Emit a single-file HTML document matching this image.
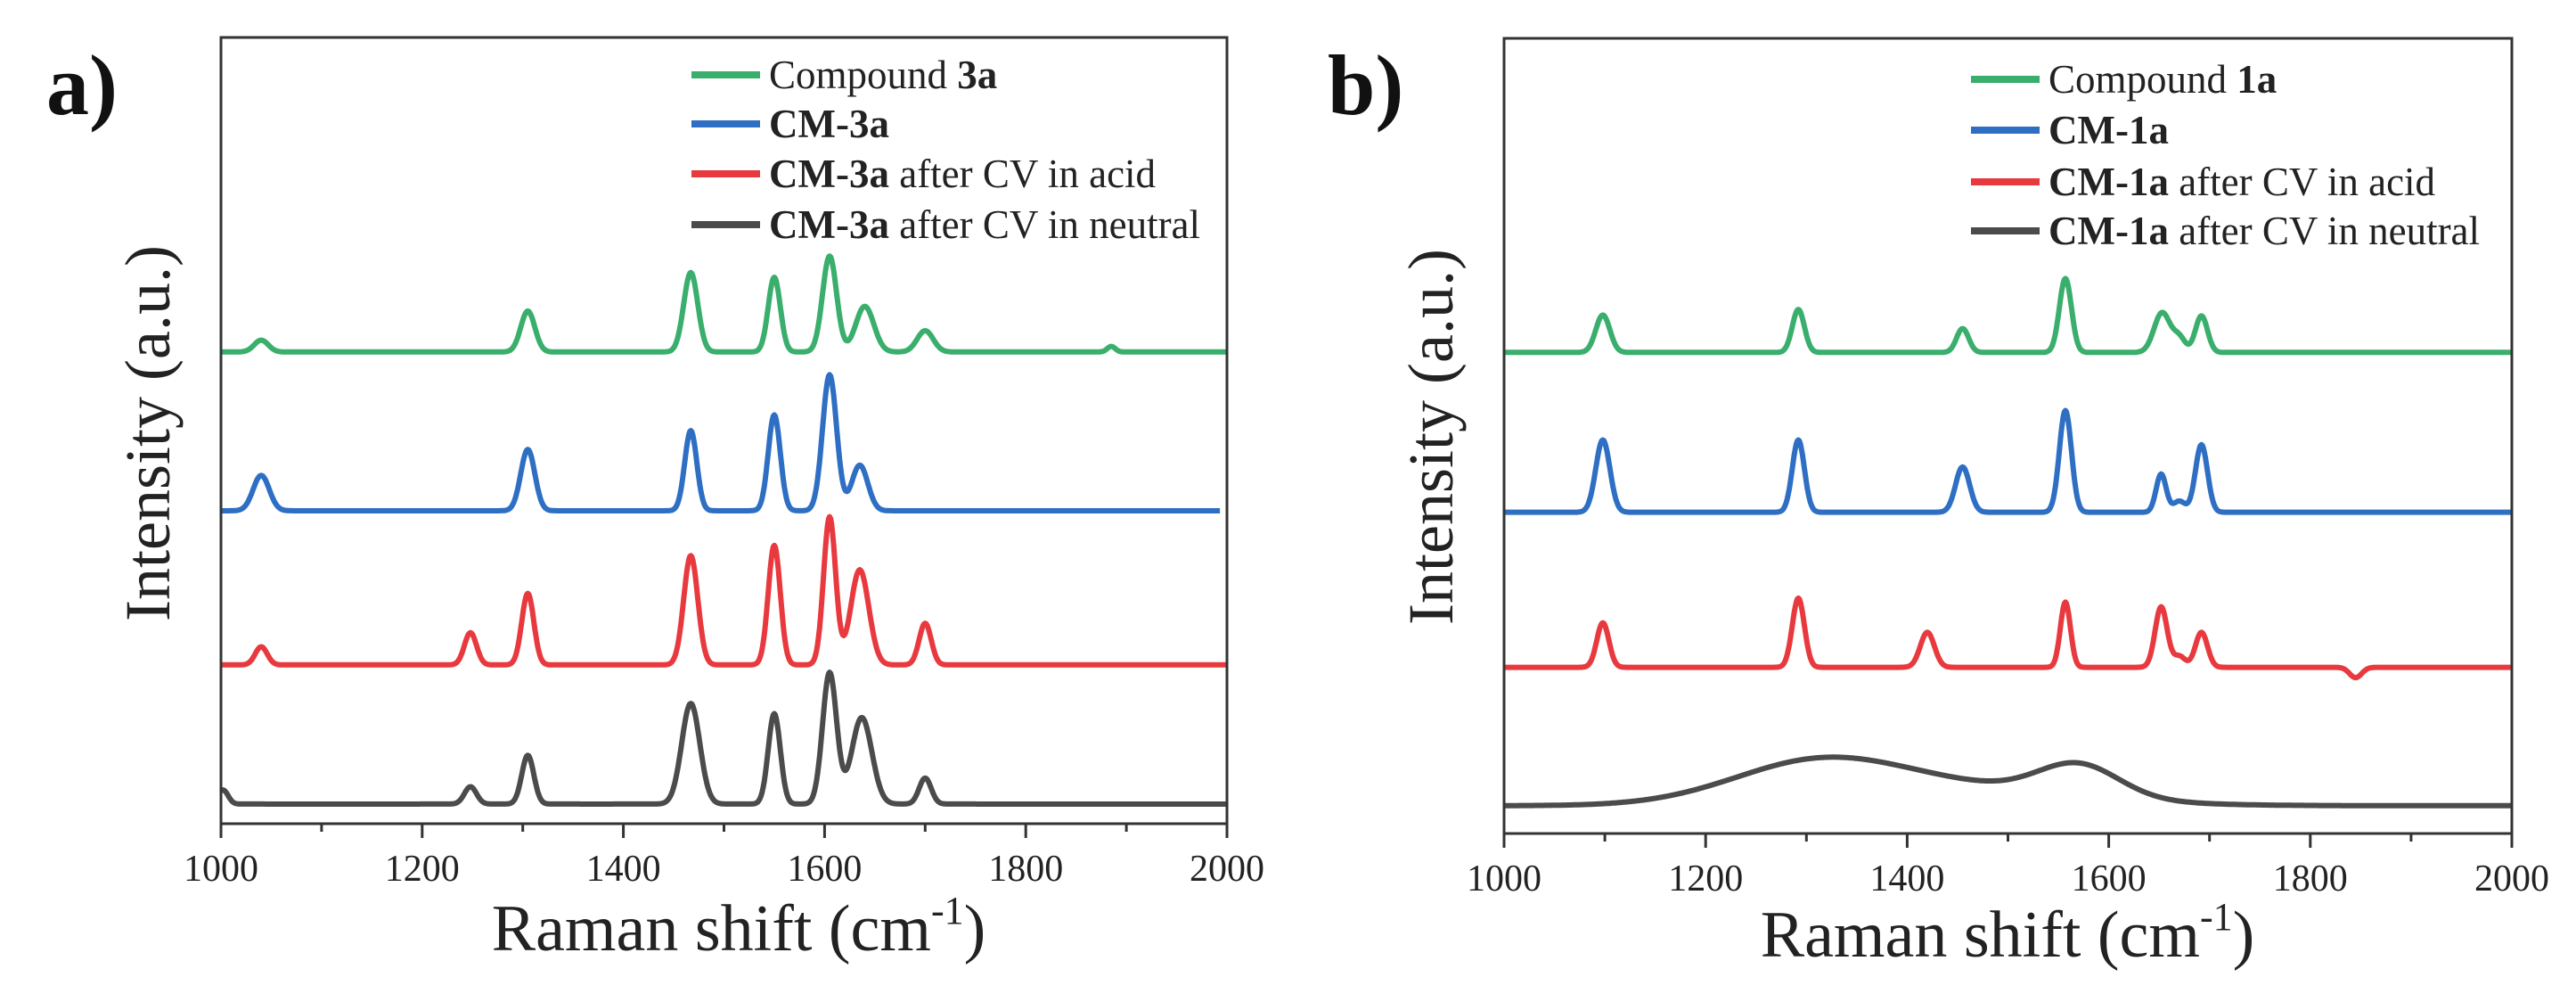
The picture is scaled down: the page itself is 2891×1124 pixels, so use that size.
<!DOCTYPE html>
<html><head><meta charset="utf-8">
<style>
html,body{margin:0;padding:0;background:#fff;}
svg{display:block;font-family:"Liberation Serif",serif;}
</style></head>
<body>
<svg id="fig" width="2891" height="1124" viewBox="0 0 2891 1124" xmlns="http://www.w3.org/2000/svg"></svg>
<script>
// ---- data (Raman shift in cm-1, intensity in arbitrary units, domain 0..1000) ----
const xTicks = [1000, 1200, 1400, 1600, 1800, 2000];
const xMinor = [1100, 1300, 1500, 1700, 1900];

const seriesNamesA = ["Compound 3a", "CM-3a", "CM-3a after CV in acid", "CM-3a after CV in neutral"];
const offsetsA = [600, 398, 202, 25];
const peakCentersA = [
  [1040, 1305, 1467, 1550, 1605, 1640, 1700, 1885],
  [1040, 1305, 1467, 1550, 1605, 1635],
  [1040, 1248, 1305, 1467, 1550, 1605, 1635, 1700],
  [1002, 1248, 1305, 1467, 1550, 1605, 1637, 1700]
];
const peakHeightsA = [
  [15, 52, 101, 95, 122, 58, 27, 7],
  [45, 78, 102, 122, 173, 58],
  [23, 41, 91, 139, 152, 188, 121, 53],
  [18, 22, 62, 128, 115, 167, 110, 33]
];
const peakWidthsA = [
  [7, 7, 7, 6, 7, 9, 8, 4],
  [8, 7, 6, 6, 7, 8],
  [6, 6, 6, 7, 6, 6, 9, 6],
  [5, 6, 6, 9, 6, 7, 10, 6]
];
const xEndA = [2000, 1993, 2000, 2000];

const seriesNamesB = ["Compound 1a", "CM-1a", "CM-1a after CV in acid", "CM-1a after CV in neutral"];
const offsetsB = [605, 404, 209, 35];
const peakCentersB = [
  [1098, 1292, 1455, 1557, 1653, 1670, 1692],
  [1098, 1292, 1455, 1557, 1652, 1670, 1692],
  [1098, 1292, 1420, 1557, 1652, 1670, 1692, 1845],
  [1310, 1450, 1570]
];
const peakHeightsB = [
  [47, 54, 30, 93, 50, 18, 46],
  [91, 91, 57, 128, 48, 14, 85],
  [56, 87, 44, 82, 76, 14, 44, -13],
  [49, 22, 40]
];
const peakWidthsB = [
  [7, 6, 6, 6, 8, 6, 6],
  [7, 6, 7, 6, 5, 6, 6],
  [6, 6, 7, 5, 6, 6, 6, 6],
  [85, 120, 40]
];

const colors = ["#3aae6c", "#2e6fc4", "#e8393e", "#4b4b4b"];

// ---- layout ----
const NS = "http://www.w3.org/2000/svg";
const svg = document.getElementById("fig");
function el(tag, attrs, parent) {
  const e = document.createElementNS(NS, tag);
  for (const k in attrs) e.setAttribute(k, attrs[k]);
  (parent || svg).appendChild(e);
  return e;
}

function panel(cfg) {
  const g = el("g", {});
  
  
  const xs = v => cfg.left + (v - 1000) / 1000 * (cfg.right - cfg.left);
  const ys = v => cfg.bottom - v / 1000 * (cfg.bottom - cfg.top);

  // series
  for (let s = 0; s < 4; s++) {
    let d = "";
    const xEnd = cfg.xEnd ? cfg.xEnd[s] : 2000;
    for (let x = 1000; x <= xEnd; x += 1) {
      let v = cfg.offsets[s];
      const c = cfg.centers[s], h = cfg.heights[s], w = cfg.widths[s];
      for (let i = 0; i < c.length; i++) v += h[i] * Math.exp(-((x - c[i]) ** 2) / (2 * w[i] * w[i]));
      d += (x === 1000 ? "M" : "L") + xs(x).toFixed(1) + " " + ys(v).toFixed(1);
    }
    const p = el("path", {d: d, fill: "none", stroke: colors[s], "stroke-width": 6, "stroke-linejoin": "round"}, g);
    
    
  }

  // frame
  const fr = el("rect", {x: cfg.left, y: cfg.top, width: cfg.right - cfg.left, height: cfg.bottom - cfg.top, fill: "none", stroke: "#333", "stroke-width": 3}, g);
  
  

  // ticks
  xTicks.forEach(t => {
    const ln = el("line", {x1: xs(t), x2: xs(t), y1: cfg.bottom, y2: cfg.bottom + 16, stroke: "#333", "stroke-width": 3}, g);
    
    
    const tx = el("text", {x: xs(t), y: cfg.bottom + 64, "text-anchor": "middle", "font-size": 42, fill: "#222"}, g);
    tx.textContent = t;
    
    
  });
  xMinor.forEach(t => {
    const ln = el("line", {x1: xs(t), x2: xs(t), y1: cfg.bottom, y2: cfg.bottom + 9, stroke: "#333", "stroke-width": 3}, g);
    
    
  });

  // x title
  const xt = el("text", {x: cfg.xTitleX, y: cfg.xTitleY, "text-anchor": "middle", "font-size": 74, fill: "#222"}, g);
  
  
  xt.innerHTML = 'Raman shift (cm<tspan dy="-30" font-size="44">-1</tspan><tspan dy="30">)</tspan>';

  // y title
  const yt = el("text", {x: 0, y: 0, "text-anchor": "middle", "font-size": 72, fill: "#222", transform: "translate(" + cfg.yTitleX + "," + cfg.yTitleY + ") rotate(-90)"}, g);
  yt.textContent = "Intensity (a.u.)";
  
  

  // panel label
  const pl = el("text", {x: cfg.labelX, y: 128, "font-size": 96, "font-weight": "bold", fill: "#111"}, g);
  pl.textContent = cfg.label;
  
  

  // legend
  const lg = el("g", {}, g);
  
  
  for (let s = 0; s < 4; s++) {
    const y = cfg.legendY[s];
    const ln = el("line", {x1: cfg.legendX, x2: cfg.legendX + 77, y1: y, y2: y, stroke: colors[s], "stroke-width": 8}, lg);
    
    
    const tx = el("text", {x: cfg.legendX + 87, y: y + 15, "font-size": 45, fill: "#222"}, lg);
    
    
    const name = cfg.names[s];
    if (s === 0) {
      const parts = name.split(" ");
      tx.innerHTML = parts[0] + ' <tspan font-weight="bold">' + parts[1] + '</tspan>';
    } else {
      const i = name.indexOf(" ");
      if (i < 0) tx.innerHTML = '<tspan font-weight="bold">' + name + '</tspan>';
      else tx.innerHTML = '<tspan font-weight="bold">' + name.slice(0, i) + '</tspan>' + name.slice(i);
    }
  }
}

panel({name: "panel-a", left: 248, right: 1377, top: 42, bottom: 924,
  offsets: offsetsA, centers: peakCentersA, heights: peakHeightsA, widths: peakWidthsA, xEnd: xEndA,
  names: seriesNamesA, legendX: 776, legendY: [84, 139, 195, 252],
  xTitleX: 829, xTitleY: 1066, yTitleX: 190, yTitleY: 486, label: "a)", labelX: 52});

panel({name: "panel-b", left: 1688, right: 2819, top: 43, bottom: 935,
  offsets: offsetsB, centers: peakCentersB, heights: peakHeightsB, widths: peakWidthsB,
  names: seriesNamesB, legendX: 2212, legendY: [89, 146, 204, 259],
  xTitleX: 2253, xTitleY: 1073, yTitleX: 1630, yTitleY: 490, label: "b)", labelX: 1490});
</script>
</body></html>
